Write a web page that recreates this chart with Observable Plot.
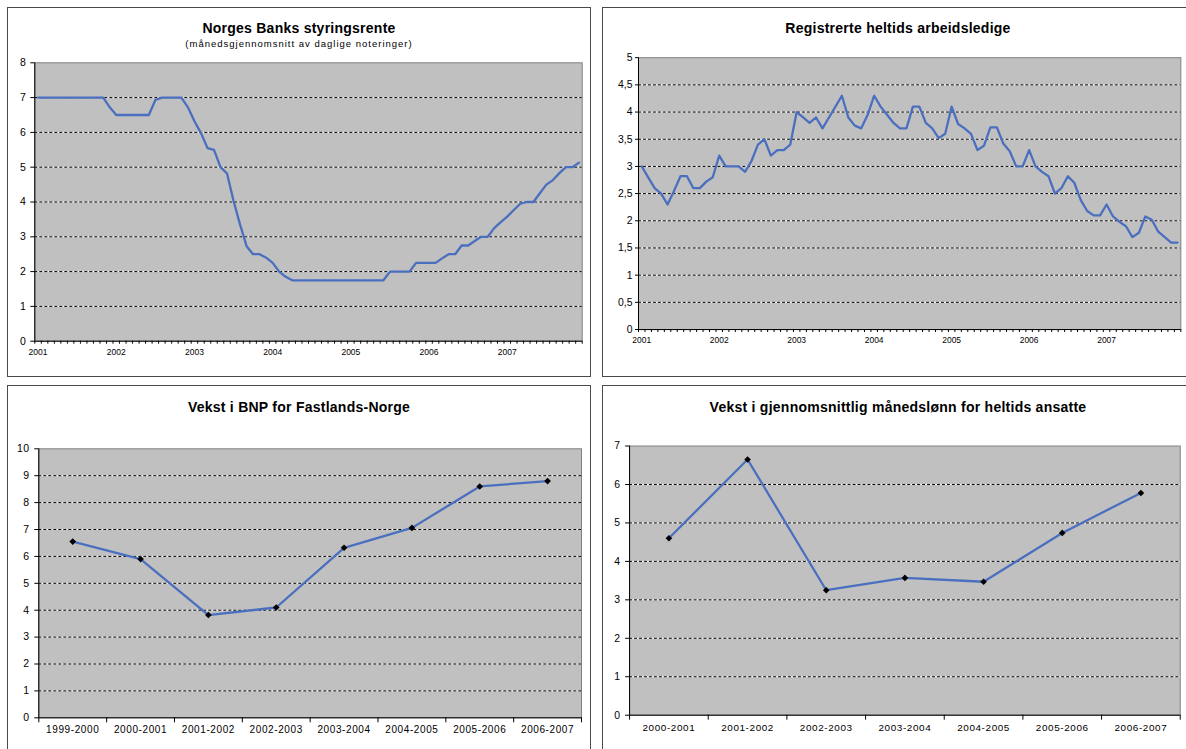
<!DOCTYPE html>
<html>
<head>
<meta charset="utf-8">
<script src="https://cdn.jsdelivr.net/npm/d3@7"></script>
<script src="https://cdn.jsdelivr.net/npm/@observablehq/plot@0.6"></script>
<style>
  html, body { margin: 0; padding: 0; background: #fff; width: 1186px; height: 749px; overflow: hidden; position: relative; }
  .panel { position: absolute; box-sizing: border-box; border: 1px solid #4a4a4a; background: #fff; }
  .title { position: absolute; text-align: center; font-family: "Liberation Sans", Arial, sans-serif; font-weight: bold; font-size: 14px; line-height: 16px; letter-spacing: 0.25px; color: #000; white-space: nowrap; }
  .sub { position: absolute; text-align: center; font-family: "Liberation Sans", Arial, sans-serif; font-size: 9.5px; line-height: 11px; letter-spacing: 1px; color: #000; white-space: nowrap; }
  .chart { position: absolute; }
  .chart svg { overflow: visible; }
</style>
</head>
<body>
<div class="panel" style="left:7px;top:7px;width:584px;height:370px"></div>
<div class="panel" style="left:602px;top:7px;width:592px;height:370px"></div>
<div class="panel" style="left:7px;top:385px;width:584px;height:380px"></div>
<div class="panel" style="left:602px;top:385px;width:592px;height:380px"></div>

<div class="title" style="left:7px;width:584px;top:20px">Norges Banks styringsrente</div>
<div class="sub" style="left:7px;width:584px;top:38px">(månedsgjennomsnitt av daglige noteringer)</div>
<div class="title" style="left:602px;width:592px;top:20px">Registrerte heltids arbeidsledige</div>
<div class="title" style="left:7px;width:584px;top:399px">Vekst i BNP for Fastlands-Norge</div>
<div class="title" style="left:602px;width:592px;top:399px">Vekst i gjennomsnittlig månedslønn for heltids ansatte</div>

<div id="c1" class="chart" style="left:0px;top:40px"></div>
<div id="c2" class="chart" style="left:595px;top:40px"></div>
<div id="c3" class="chart" style="left:0px;top:420px"></div>
<div id="c4" class="chart" style="left:595px;top:420px"></div>

<script>
// ---------- DATA ----------
const years = ["2001", "2002", "2003", "2004", "2005", "2006", "2007"];

// Norges Banks styringsrente, monthly Jan 2001 - Dec 2007
const renteValues = [
  7.0, 7.0, 7.0, 7.0, 7.0, 7.0, 7.0, 7.0, 7.0, 7.0, 7.0, 6.72,
  6.5, 6.5, 6.5, 6.5, 6.5, 6.5, 6.93, 7.0, 7.0, 7.0, 7.0, 6.72,
  6.32, 5.98, 5.55, 5.5, 5.0, 4.82, 4.03, 3.35, 2.73, 2.5, 2.5, 2.4,
  2.25, 2.0, 1.85, 1.75, 1.75, 1.75, 1.75, 1.75, 1.75, 1.75, 1.75, 1.75,
  1.75, 1.75, 1.75, 1.75, 1.75, 1.75, 2.0, 2.0, 2.0, 2.0, 2.25, 2.25,
  2.25, 2.25, 2.38, 2.5, 2.5, 2.75, 2.75, 2.88, 3.0, 3.0, 3.25, 3.42,
  3.58, 3.77, 3.95, 4.0, 4.0, 4.25, 4.5, 4.63, 4.83, 5.0, 5.0, 5.13
];
const renteTicks = [0, 1, 2, 3, 4, 5, 6, 7, 8];

// Registrerte heltids arbeidsledige, monthly Jan 2001 - Dec 2007
const ledigeValues = [
  3.0, 2.8, 2.6, 2.5, 2.3, 2.55, 2.82, 2.82, 2.6, 2.6, 2.72, 2.8,
  3.2, 3.0, 3.0, 3.0, 2.9, 3.1, 3.4, 3.5, 3.2, 3.3, 3.3, 3.4,
  4.0, 3.9, 3.8, 3.9, 3.7, 3.9, 4.1, 4.3, 3.9, 3.75, 3.7, 3.95,
  4.3, 4.1, 3.95, 3.8, 3.7, 3.7, 4.1, 4.1, 3.8, 3.7, 3.52, 3.6,
  4.1, 3.78, 3.7, 3.6, 3.3, 3.38, 3.72, 3.72, 3.42, 3.28, 3.0, 3.0,
  3.3, 3.0, 2.9, 2.82, 2.5, 2.6, 2.82, 2.7, 2.38, 2.18, 2.1, 2.1,
  2.3, 2.08, 1.98, 1.9, 1.7, 1.78, 2.08, 2.02, 1.8, 1.7, 1.6, 1.6
];
const ledigeTicks = [0, 0.5, 1, 1.5, 2, 2.5, 3, 3.5, 4, 4.5, 5];

// Vekst i BNP for Fastlands-Norge
const bnpCats = ["1999-2000", "2000-2001", "2001-2002", "2002-2003", "2003-2004", "2004-2005", "2005-2006", "2006-2007"];
const bnpValues = [6.55, 5.9, 3.82, 4.1, 6.32, 7.06, 8.6, 8.8];
const bnpTicks = [0, 1, 2, 3, 4, 5, 6, 7, 8, 9, 10];

// Vekst i gjennomsnittlig månedslønn for heltids ansatte
const lonnCats = ["2000-2001", "2001-2002", "2002-2003", "2003-2004", "2004-2005", "2005-2006", "2006-2007"];
const lonnValues = [4.6, 6.65, 3.25, 3.57, 3.47, 4.74, 5.78];
const lonnTicks = [0, 1, 2, 3, 4, 5, 6, 7];

// ---------- STYLE ----------
const LINE = "#4b6fbf";
const FONT = "'Liberation Sans', Arial, sans-serif";

function chart(cfg) {
  const n = cfg.values.length;
  const data = cfg.values.map((v, i) => ({ x: i + 0.5, y: v }));
  const yMax = cfg.yTicks[cfg.yTicks.length - 1];
  const grid = cfg.yTicks.filter(t => t > 0 && t < yMax);
  const marks = [
    Plot.frame({ fill: "#c0c0c0", stroke: "#808080" }),
    Plot.ruleY(grid, { stroke: "#ffffff", strokeWidth: 1 }),
    Plot.ruleY(grid, { stroke: "#000000", strokeWidth: 1, strokeDasharray: "3,2" }),
    Plot.ruleX([0], { stroke: "#000" }),
    Plot.ruleY([0], { stroke: "#000" }),
    Plot.axisY({
      ticks: cfg.yTicks, tickSize: cfg.yTickSize, tickPadding: cfg.yTickPadding,
      tickFormat: d => String(d).replace(".", ","), label: null, fontSize: 10.5
    }),
    Plot.axisX({
      ticks: d3.range(0, n + 1, 1), tickSize: cfg.xTickSize, tickFormat: () => "", label: null
    }),
    Plot.axisX({
      ticks: cfg.labelPos, tickSize: 0, tickPadding: cfg.xLabelPad,
      tickFormat: cfg.labelFormat, label: null, fontSize: cfg.xFont
    }),
    Plot.line(data, { x: "x", y: "y", stroke: LINE, strokeWidth: 2.3, curve: "linear" })
  ];
  if (cfg.markers) {
    marks.push(Plot.dot(data, { x: "x", y: "y", symbol: "diamond2", r: 3, fill: "#000", stroke: "none" }));
  }
  return Plot.plot({
    width: cfg.width, height: cfg.height,
    marginLeft: cfg.ml, marginRight: cfg.mr, marginTop: cfg.mt, marginBottom: cfg.mb,
    x: { domain: [0, n] },
    y: { domain: [0, yMax] },
    style: { fontFamily: FONT, background: "transparent", color: "#000", letterSpacing: cfg.ls || "0px" },
    marks
  });
}

const yearPos = years.map((y, j) => j * 12 + 0.5);

document.getElementById("c1").append(chart({
  values: renteValues, yTicks: renteTicks,
  width: 595, height: 330, ml: 34.3, mr: 13.3, mt: 22.3, mb: 29.3,
  yTickSize: 4, yTickPadding: 5, xTickSize: 3, xLabelPad: 8, xFont: 8.5,
  labelPos: yearPos, labelFormat: d => years[Math.floor(d / 12)], markers: false
}));

document.getElementById("c2").append(chart({
  values: ledigeValues, yTicks: ledigeTicks,
  width: 595, height: 320, ml: 43.3, mr: 5.7, mt: 17.3, mb: 29,
  yTickSize: 3, yTickPadding: 3, xTickSize: 3, xLabelPad: 8, xFont: 8.5,
  labelPos: yearPos, labelFormat: d => years[Math.floor(d / 12)], markers: false
}));

document.getElementById("c3").append(chart({
  values: bnpValues, yTicks: bnpTicks,
  width: 595, height: 329, ml: 38.3, mr: 14, mt: 28.3, mb: 31.7,
  yTickSize: 4, yTickPadding: 5, xTickSize: 5, xLabelPad: 8.5, xFont: 10, ls: "0.6px",
  labelPos: bnpCats.map((c, i) => i + 0.5), labelFormat: d => bnpCats[Math.floor(d)], markers: true
}));

document.getElementById("c4").append(chart({
  values: lonnValues, yTicks: lonnTicks,
  width: 595, height: 329, ml: 34.3, mr: 6.3, mt: 25.7, mb: 32.3,
  yTickSize: 4, yTickPadding: 5, xTickSize: 5, xLabelPad: 8.5, xFont: 10, ls: "0.6px",
  labelPos: lonnCats.map((c, i) => i + 0.5), labelFormat: d => lonnCats[Math.floor(d)], markers: true
}));
</script>
</body>
</html>
